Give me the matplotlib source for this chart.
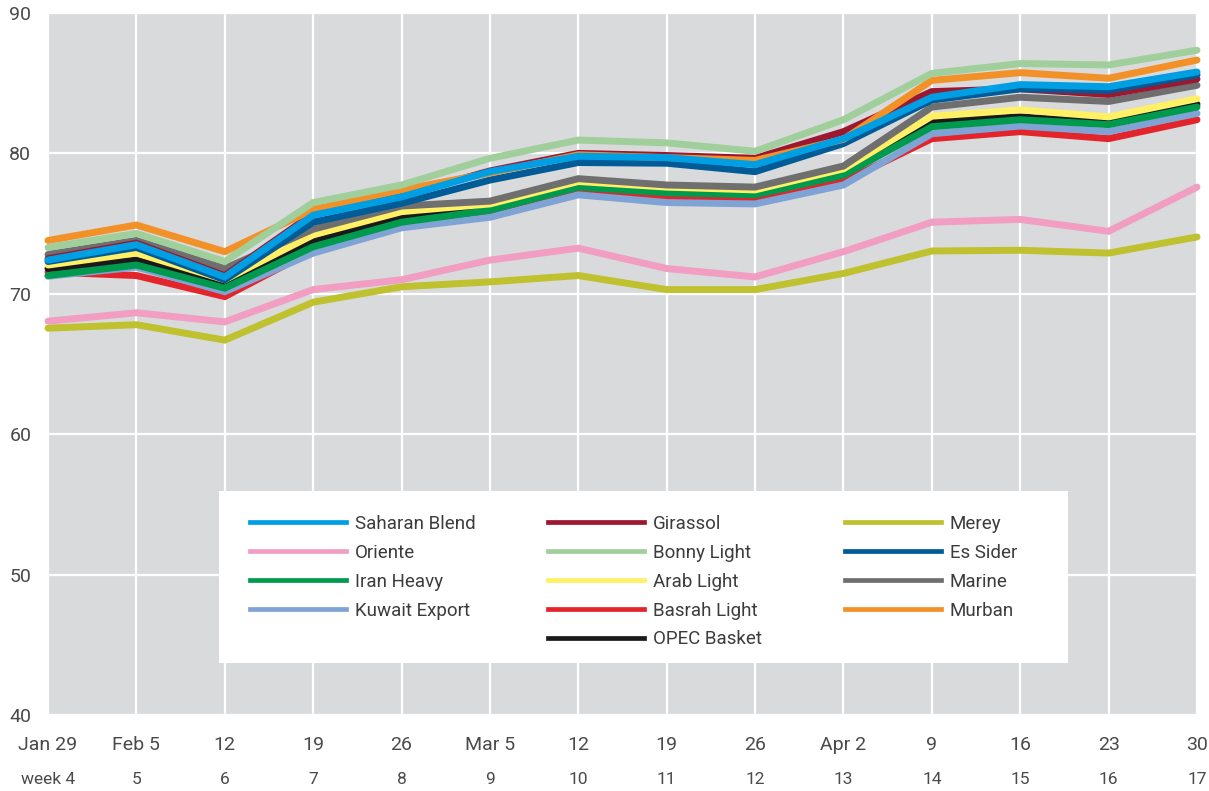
import matplotlib
matplotlib.use('Agg')
import matplotlib.pyplot as plt
from matplotlib.patches import Rectangle
from matplotlib.lines import Line2D
from matplotlib.legend import Legend
from matplotlib import font_manager

# plain sans for all text
names = {f.name for f in font_manager.fontManager.ttflist}
fam = 'DejaVu Sans'
for cand in ['Roboto', 'Lato', 'Open Sans']:
    if cand in names:
        fam = cand
        break
plt.rcParams['font.family'] = [fam, 'DejaVu Sans']

dates = ['Jan 29', 'Feb 5', '12', '19', '26', 'Mar 5', '12', '19', '26',
         'Apr 2', '9', '16', '23', '30']
weeks = ['week 4', '5', '6', '7', '8', '9', '10', '11', '12', '13', '14', '15', '16', '17']

saharan = [72.4, 73.5, 71.2, 75.6, 76.9, 78.7, 79.8, 79.7, 79.2, 81.05, 84.0, 84.9, 84.75, 85.8]
oriente = [68.05, 68.65, 68.0, 70.3, 71.0, 72.4, 73.25, 71.8, 71.2, 73.0, 75.1, 75.3, 74.45, 77.6]
iran_heavy = [71.3, 72.05, 70.4, 73.35, 75.1, 75.95, 77.6, 77.2, 77.05, 78.45, 81.9, 82.4, 82.05, 83.3]
kuwait = [71.25, 71.9, 70.15, 72.9, 74.7, 75.45, 77.05, 76.5, 76.4, 77.75, 81.4, 81.95, 81.55, 82.85]
girassol = [72.5, 73.6, 71.3, 75.7, 77.0, 78.75, 80.0, 79.85, 79.65, 81.55, 84.4, 84.6, 84.2, 85.3]
bonny = [73.3, 74.3, 72.3, 76.5, 77.75, 79.65, 80.95, 80.75, 80.15, 82.4, 85.7, 86.4, 86.3, 87.35]
arab_light = [72.05, 72.9, 71.0, 74.2, 75.85, 76.4, 78.0, 77.6, 77.4, 78.9, 82.65, 83.1, 82.6, 83.9]
basrah = [71.55, 71.3, 69.8, 73.1, 74.9, 75.7, 77.3, 76.9, 76.75, 78.0, 81.05, 81.55, 81.05, 82.4]
opec = [71.8, 72.4, 70.75, 73.7, 75.5, 76.1, 77.7, 77.3, 77.15, 78.6, 82.3, 82.6, 82.2, 83.5]
merey = [67.55, 67.8, 66.7, 69.4, 70.5, 70.85, 71.3, 70.3, 70.3, 71.45, 73.05, 73.1, 72.9, 74.05]
es_sider = [72.3, 73.3, 71.0, 75.1, 76.45, 78.1, 79.35, 79.3, 78.7, 80.7, 83.8, 84.6, 84.5, 85.6]
marine = [72.8, 73.8, 71.8, 74.6, 76.25, 76.6, 78.2, 77.75, 77.6, 79.1, 83.3, 84.0, 83.7, 84.85]
murban = [73.8, 74.9, 73.0, 76.0, 77.4, 78.6, 79.9, 79.7, 79.5, 81.0, 85.2, 85.75, 85.35, 86.65]

series = {
    'Saharan Blend': (saharan, '#009fe3'),
    'Oriente': (oriente, '#f19ec2'),
    'Iran Heavy': (iran_heavy, '#009a4e'),
    'Kuwait Export': (kuwait, '#7fa3d4'),
    'Girassol': (girassol, '#9b1830'),
    'Bonny Light': (bonny, '#a0cf9b'),
    'Arab Light': (arab_light, '#fff066'),
    'Basrah Light': (basrah, '#e3242b'),
    'OPEC Basket': (opec, '#1a1a1a'),
    'Merey': (merey, '#bfc12f'),
    'Es Sider': (es_sider, '#005b97'),
    'Marine': (marine, '#6f6f6f'),
    'Murban': (murban, '#f39129'),
}
# bottom to top
draw_order = ['Merey', 'Oriente', 'Basrah Light', 'Kuwait Export', 'OPEC Basket',
              'Iran Heavy', 'Arab Light', 'Marine', 'Girassol', 'Es Sider',
              'Murban', 'Bonny Light', 'Saharan Blend']
legend_cols = [['Saharan Blend', 'Oriente', 'Iran Heavy', 'Kuwait Export'],
               ['Girassol', 'Bonny Light', 'Arab Light', 'Basrah Light', 'OPEC Basket'],
               ['Merey', 'Es Sider', 'Marine', 'Murban']]

fig = plt.figure(figsize=(12.09, 7.91), dpi=100)
ax = fig.add_axes([48 / 1209, 76 / 791, 1149 / 1209, 702 / 791])
ax.set_facecolor('#d9dadc')

x = list(range(len(dates)))
lw = 5.0
for i, name in enumerate(draw_order):
    vals, col = series[name]
    ax.plot(x, vals, color=col, lw=lw, solid_capstyle='round',
            solid_joinstyle='miter', zorder=3 + i, clip_on=False)

ax.set_xlim(0, 13)
ax.set_ylim(40, 90)
ax.set_xticks(x)
ax.set_xticklabels([])
ax.set_yticks([40, 50, 60, 70, 80, 90])
ax.tick_params(length=0)
ax.tick_params(axis='y', labelsize=14, labelcolor='#4a4a4a', pad=12)
ax.grid(True, color='white', lw=1.6)
ax.set_axisbelow(True)
for s in ax.spines.values():
    s.set_visible(False)

tr = ax.get_xaxis_transform()
for xi, d, w in zip(x, dates, weeks):
    ax.text(xi, -0.043, d, transform=tr, ha='center', va='center',
            fontsize=14, color='#4a4a4a')
    ax.text(xi, -0.092, w, transform=tr, ha='center', va='center',
            fontsize=12.5, color='#4a4a4a')

# legend box
ax.add_patch(Rectangle((171 / 1149, 52 / 702), 849 / 1149, 172 / 702,
                       transform=ax.transAxes, facecolor='white',
                       edgecolor='none', zorder=2))
col_x = [0.1758, 0.4352, 0.6936]
for cx, names_col in zip(col_x, legend_cols):
    handles = [Line2D([], [], color=series[n][1], lw=3.4) for n in names_col]
    leg = Legend(ax, handles, names_col, loc='upper left',
                 bbox_to_anchor=(cx, 0.285), frameon=False,
                 fontsize=13.5, handlelength=5.1, handletextpad=0.5,
                 labelspacing=0.58, borderpad=0, borderaxespad=0)
    for t in leg.get_texts():
        t.set_color('#3c3c3c')
    leg.set_zorder(20)
    ax.add_artist(leg)

fig.savefig('out.png', dpi=100)
